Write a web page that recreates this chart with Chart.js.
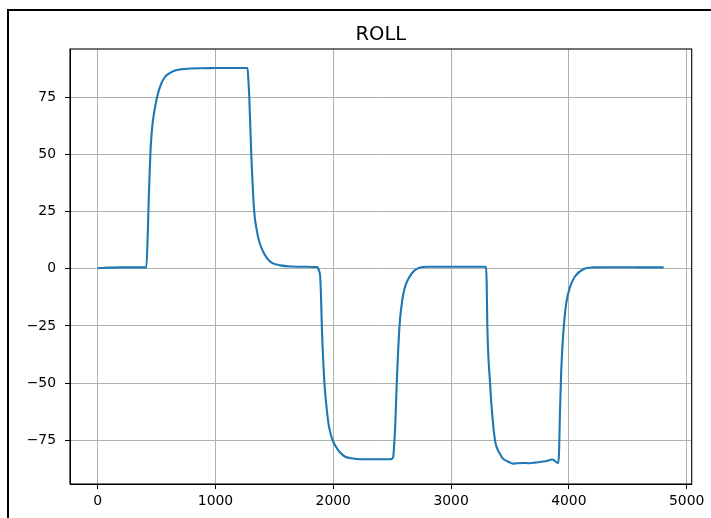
<!DOCTYPE html>
<html>
<head>
<meta charset="utf-8">
<script src="https://cdn.jsdelivr.net/npm/chart.js@4.4.1/dist/chart.umd.min.js"></script>
<style>
  html, body { margin: 0; padding: 0; background: #ffffff; }
  canvas { display: block; }
</style>
</head>
<body>
<canvas id="c" width="711" height="518"></canvas>
<script>
// ---- data ----
const chartTitle = 'ROLL';
const timeValues = [
  0, 100, 200, 300, 413, 425, 432, 440, 447, 455, 464, 475, 484, 494, 504, 518, 532, 546, 560, 575, 589, 640, 701, 786, 900, 1000, 1100, 1272,
  1280, 1287, 1304, 1329, 1350, 1372, 1400, 1437, 1480, 1550, 1650, 1750, 1866,
  1876, 1889, 1896, 1903, 1925, 1940, 1959, 1977, 1997, 2025, 2053, 2101, 2150, 2200, 2300, 2400, 2483,
  2500, 2510, 2518, 2525, 2539, 2562, 2580, 2596, 2615, 2639, 2695, 2794, 2900, 3000, 3100, 3200, 3297,
  3302, 3308, 3331, 3350, 3373, 3395, 3416, 3440, 3472, 3500, 3529, 3560, 3613, 3650, 3700, 3727, 3780, 3820, 3854, 3868, 3890, 3910,
  3917, 3925, 3935, 3953, 3978, 4010, 4050, 4122, 4207, 4300, 4400, 4500, 4600, 4700, 4805
];
const rollValues = [
  0.3, 0.5, 0.6, 0.6, 0.6, 15, 28, 40, 50, 57, 62.5, 67, 69.8, 72.5, 75, 77.8, 79.9, 81.7, 83, 84.1, 84.8, 86.4, 87.2, 87.6, 87.7, 87.8, 87.8, 87.8,
  82, 75, 50, 25, 17, 11.8, 8, 4.7, 2.6, 1.5, 1.0, 0.9, 0.8,
  -0.5, -3.5, -12, -25, -50, -59, -67.6, -72, -75.3, -78, -80, -82.2, -82.8, -83.2, -83.3, -83.3, -83.3,
  -83.0, -82.0, -76, -70, -50, -25.3, -16, -10.7, -7, -4.2, -0.5, 0.9, 0.9, 0.9, 0.9, 0.9, 0.9,
  -5, -25, -50, -64, -75, -79, -81, -83, -84, -84.7, -85.2, -85.0, -84.9, -85.0, -84.8, -84.7, -84.3, -83.9, -83.4, -83.5, -84.4, -85.0,
  -80, -62, -45, -28, -15, -8, -3.5, -0.2, 0.6, 0.7, 0.7, 0.7, 0.6, 0.6, 0.6
];
const xTickValues = [0, 1000, 2000, 3000, 4000, 5000];
const xTickLabels = ['0', '1000', '2000', '3000', '4000', '5000'];
const yTickValues = [-75, -50, -25, 0, 25, 50, 75];
const yTickLabels = ['\u221275', '\u221250', '\u221225', '0', '25', '50', '75'];

// ---- chart ----
const points = timeValues.map((t, i) => ({ x: t, y: rollValues[i] }));
const FONT = 'DejaVu Sans';

const framePlugin = {
  id: 'framePlugin',
  beforeDraw(chart) {
    const ctx = chart.ctx;
    ctx.save();
    ctx.fillStyle = '#ffffff';
    ctx.fillRect(0, 0, chart.width, chart.height);
    // outer screenshot frame (left and top edges)
    ctx.fillStyle = '#000000';
    ctx.fillRect(7, 9, 2, chart.height - 9);
    ctx.fillRect(7, 9, chart.width - 7, 2);
    ctx.restore();
  },
  afterDraw(chart) {
    const ctx = chart.ctx;
    const a = chart.chartArea;
    ctx.save();
    ctx.strokeStyle = '#000000';
    ctx.lineWidth = 1.1;
    ctx.strokeRect(a.left, a.top, a.right - a.left, a.bottom - a.top);
    ctx.fillStyle = '#000000';
    ctx.font = '19.5px "' + FONT + '"';
    ctx.textAlign = 'center';
    ctx.textBaseline = 'alphabetic';
    ctx.fillText(chartTitle, (a.left + a.right) / 2, 39.5);
    ctx.restore();
  }
};

new Chart(document.getElementById('c'), {
  type: 'line',
  data: {
    datasets: [{
      data: points,
      borderColor: '#1f77b4',
      borderWidth: 2.1,
      pointRadius: 0,
      fill: false,
      cubicInterpolationMode: 'monotone'
    }]
  },
  options: {
    responsive: false,
    devicePixelRatio: 1,
    animation: false,
    events: [],
    layout: { padding: { left: 0, top: 49, right: 19.3, bottom: 0 } },
    plugins: { legend: { display: false }, title: { display: false }, tooltip: { enabled: false } },
    scales: {
      x: {
        type: 'linear',
        min: -235,
        max: 5043,
        afterBuildTicks: (s) => { s.ticks = xTickValues.map(v => ({ value: v })); },
        afterFit: (s) => { s.height = 34; },
        ticks: {
          autoSkip: false,
          maxRotation: 0,
          padding: 4,
          color: '#000000',
          font: { family: FONT, size: 13.9 },
          callback: (v) => { const i = xTickValues.indexOf(v); return i >= 0 ? xTickLabels[i] : ''; }
        },
        grid: { color: '#b0b0b0', lineWidth: 1, tickColor: '#000000', tickLength: 5, tickWidth: 1 },
        border: { display: true, color: '#000000', width: 1 }
      },
      y: {
        type: 'linear',
        min: -94.1,
        max: 96.1,
        afterBuildTicks: (s) => { s.ticks = yTickValues.map(v => ({ value: v })); },
        afterFit: (s) => { s.width = 70; },
        ticks: {
          autoSkip: false,
          padding: 9,
          color: '#000000',
          font: { family: FONT, size: 13.9 },
          callback: (v) => { const i = yTickValues.indexOf(v); return i >= 0 ? yTickLabels[i] : ''; }
        },
        grid: { color: '#b0b0b0', lineWidth: 1, tickColor: '#000000', tickLength: 5, tickWidth: 1 },
        border: { display: true, color: '#000000', width: 1 }
      }
    }
  },
  plugins: [framePlugin]
});
</script>
</body>
</html>
